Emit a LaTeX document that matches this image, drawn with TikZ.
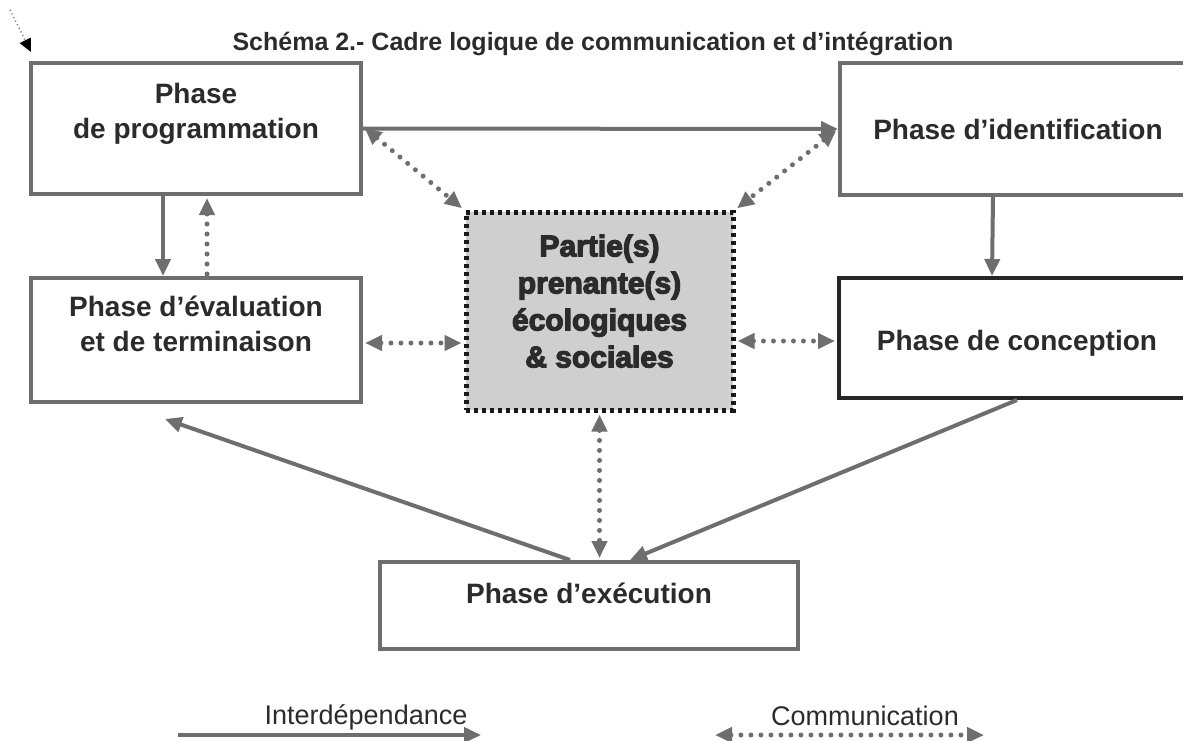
\documentclass[tikz,border=0pt]{standalone}
\usepackage{fontspec}
\setmainfont{Liberation Sans}
\newfontfamily\heavyfont[FakeBold=4]{Liberation Sans Bold}
\usetikzlibrary{arrows.meta}
\definecolor{lineGray}{HTML}{6E6E6E}
\definecolor{textGray}{HTML}{2B2B2B}
\definecolor{fillGray}{HTML}{CFCFCF}
\newcommand{\boxFont}[0]{\fontsize{28}{35}\selectfont\bfseries}

\begin{document}
\begin{tikzpicture}[x=1pt, y=-1pt]
  \tikzset{phase/.style={draw=lineGray, line width=4pt, fill=white, text=textGray,
             font=\boxFont, align=center, inner sep=0pt},
           inter/.style={draw=lineGray, line width=4pt,
             -{Triangle[length=17pt,width=15pt]}},
           comm/.style={draw=lineGray, line width=5pt, line cap=round,
             dash pattern=on 0pt off 10pt, shorten <=2pt, shorten >=2pt,
             {Triangle[length=17pt,width=15pt]}-{Triangle[length=17pt,width=15pt]}}}
  \useasboundingbox (0,0) rectangle (1183,741);

  % title
  \node[text=textGray, font=\fontsize{25}{28}\selectfont\bfseries] (title) at (593,44)
    {Schéma 2.- Cadre logique de communication et d’intégration};
  \coordinate (markA) at (10,10);
  \coordinate (markB) at (31,52);
  \draw[lineGray, line width=1.5pt, dash pattern=on 1pt off 3pt,
        -{Triangle[length=13pt,width=12pt,black]}] (markA) -- (markB);

  % boxes
  \node[phase, minimum width=330, minimum height=131, text depth=36pt] (prog) at (196,128.5)
    {Phase\\de programmation};
  \node[phase, minimum width=330, minimum height=124, text depth=32pt] (eval) at (196,340)
    {Phase d’évaluation\\et de terminaison};
  \node[phase, minimum width=356, minimum height=132] (ident) at (1018,129)
    {Phase d’identification};
  \node[phase, draw=black!85, minimum width=356, minimum height=120,
        text height=30pt, text depth=6pt] (concep) at (1017,338)
    {Phase de conception};
  \node[phase, minimum width=418, minimum height=87, text depth=24pt] (exec) at (589,605.5)
    {Phase d’exécution};
  \node[draw=black!90, line width=5pt, dash pattern=on 4pt off 4pt, fill=fillGray,
        text=textGray, font=\fontsize{30}{37}\selectfont\heavyfont, align=center,
        minimum width=267, minimum height=198, inner sep=0pt, text depth=20pt] (parties) at (599.5,311)
    {Partie(s)\\prenante(s)\\écologiques\\\& sociales};

  % interdependance
  \draw[inter] (prog.east) -- (ident.west);
  \draw[inter] ([xshift=-33pt]prog.south) -- ([xshift=-33pt]eval.north);
  \draw[inter] ([xshift=-25pt]ident.south) -- ([xshift=-25pt]concep.north);
  \draw[inter] ([xshift=-19pt]exec.north) -- ([xshift=-31pt,yshift=-15pt]eval.south);
  \draw[inter] (concep.south) -- ([xshift=41pt]exec.north);

  % communication
  \draw[comm, -{Triangle[length=17pt,width=15pt]}] ([xshift=11pt]eval.north) -- ([xshift=11pt]prog.south);
  \draw[comm] ([yshift=2pt]prog.east) -- (parties.north west);
  \draw[comm] (ident.west) -- (parties.north east);
  \draw[comm] ([yshift=-3pt]eval.east) -- ([yshift=-3pt]eval.east -| parties.west);
  \draw[comm] ([yshift=-3pt]concep.west -| parties.east) -- ([yshift=-3pt]concep.west);
  \draw[comm] (parties.south) -- (parties.south |- exec.north);

  % legend
  \node[text=textGray, font=\fontsize{27}{30}\selectfont] (legInter) at (366,717) {Interdépendance};
  \node[text=textGray, font=\fontsize{27}{30}\selectfont] (legComm) at (865,716) {Communication};
  \coordinate (interA) at (178,735);
  \coordinate (interB) at (481,735);
  \coordinate (commA) at (713,735);
  \coordinate (commB) at (986,735);
  \draw[inter] (interA) -- (interB);
  \draw[comm] (commA) -- (commB);
\end{tikzpicture}
\end{document}
